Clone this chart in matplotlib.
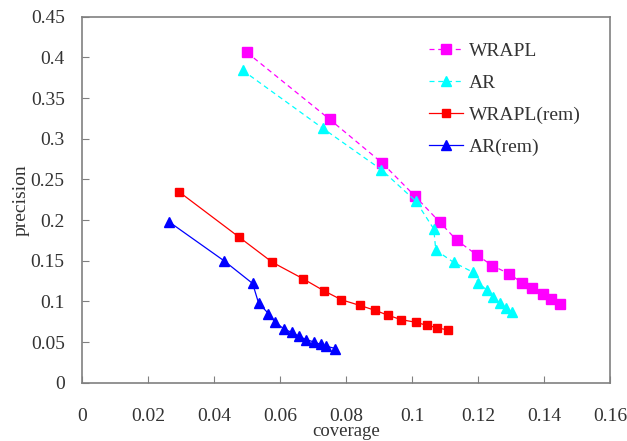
import matplotlib
matplotlib.use("Agg")
import matplotlib.pyplot as plt

plt.rcParams['font.family'] = ['Liberation Serif', 'DejaVu Serif']

# values
wrapl_x = [0.050, 0.075, 0.091, 0.101, 0.1085, 0.1136, 0.1197, 0.1243,
           0.1294, 0.1333, 0.1364, 0.1396, 0.1421, 0.1449]
wrapl_y = [0.406, 0.324, 0.270, 0.229, 0.197, 0.175, 0.157, 0.144,
           0.134, 0.123, 0.116, 0.109, 0.103, 0.097]

ar_x = [0.0487, 0.0729, 0.0907, 0.1012, 0.1066, 0.1072, 0.1126, 0.1184,
        0.1201, 0.1226, 0.1246, 0.1266, 0.1284, 0.1303]
ar_y = [0.384, 0.313, 0.262, 0.223, 0.189, 0.163, 0.148, 0.136,
        0.123, 0.114, 0.105, 0.098, 0.092, 0.087]

wrapl_rem_x = [0.0293, 0.0476, 0.0577, 0.0669, 0.0733, 0.0786, 0.0842,
               0.0888, 0.0927, 0.0967, 0.1012, 0.1045, 0.1075, 0.1108]
wrapl_rem_y = [0.235, 0.179, 0.148, 0.128, 0.113, 0.102, 0.095,
               0.089, 0.083, 0.0775, 0.0743, 0.0705, 0.0677, 0.0648]

ar_rem_x = [0.0263, 0.0430, 0.0517, 0.0535, 0.0565, 0.0584, 0.0612,
            0.0635, 0.0658, 0.0679, 0.0704, 0.0723, 0.0739, 0.0768]
ar_rem_y = [0.198, 0.150, 0.122, 0.098, 0.085, 0.075, 0.066,
            0.062, 0.057, 0.053, 0.050, 0.047, 0.045, 0.042]

x_ticks = [0, 0.02, 0.04, 0.06, 0.08, 0.1, 0.12, 0.14, 0.16]
y_ticks = [0, 0.05, 0.1, 0.15, 0.2, 0.25, 0.3, 0.35, 0.4, 0.45]


def main():
    fig = plt.figure(figsize=(6.27, 4.41), dpi=100)
    ax = fig.add_axes([0.1308, 0.1322, 0.8421, 0.8299])

    ax.plot(wrapl_x, wrapl_y, color='#FF00FF', linestyle=(0, (4, 3)),
            linewidth=0.9, marker='s', markersize=6.5, label='WRAPL')
    ax.plot(ar_x, ar_y, color='#00FFFF', linestyle=(0, (4, 3)),
            linewidth=0.9, marker='^', markersize=7, label='AR')
    ax.plot(wrapl_rem_x, wrapl_rem_y, color='#FF0000', linewidth=0.9,
            marker='s', markersize=5.5, label='WRAPL(rem)')
    ax.plot(ar_rem_x, ar_rem_y, color='#0000FF', linewidth=0.9,
            marker='^', markersize=6.5, label='AR(rem)')

    ax.set_xlim(0, 0.16)
    ax.set_ylim(0, 0.45)
    ax.set_xticks(x_ticks)
    ax.set_xticklabels(['0', '0.02', '0.04', '0.06', '0.08', '0.1',
                        '0.12', '0.14', '0.16'])
    ax.set_yticks(y_ticks)
    ax.set_yticklabels(['0', '0.05', '0.1', '0.15', '0.2', '0.25',
                        '0.3', '0.35', '0.4', '0.45'])

    for s in ax.spines.values():
        s.set_color('#808080')
        s.set_linewidth(1.2)
    ax.tick_params(axis='both', direction='in', length=5, width=0.8,
                   color='#808080', labelsize=14, labelcolor='#333333')
    ax.tick_params(axis='x', pad=18)
    ax.tick_params(axis='y', pad=12.5)

    ax.set_xlabel('coverage', fontsize=13.5, color='#333333', labelpad=-1)
    ax.set_ylabel('precision', fontsize=14, color='#333333', labelpad=1)

    ax.legend(loc='upper left', bbox_to_anchor=(0.657, 0.93), frameon=False,
              fontsize=14, numpoints=1, handlelength=1.75,
              handletextpad=0.3, labelspacing=0.74, borderpad=0,
              borderaxespad=0, labelcolor='#333333')

    fig.savefig('out.png', dpi=100)


if __name__ == '__main__':
    main()
